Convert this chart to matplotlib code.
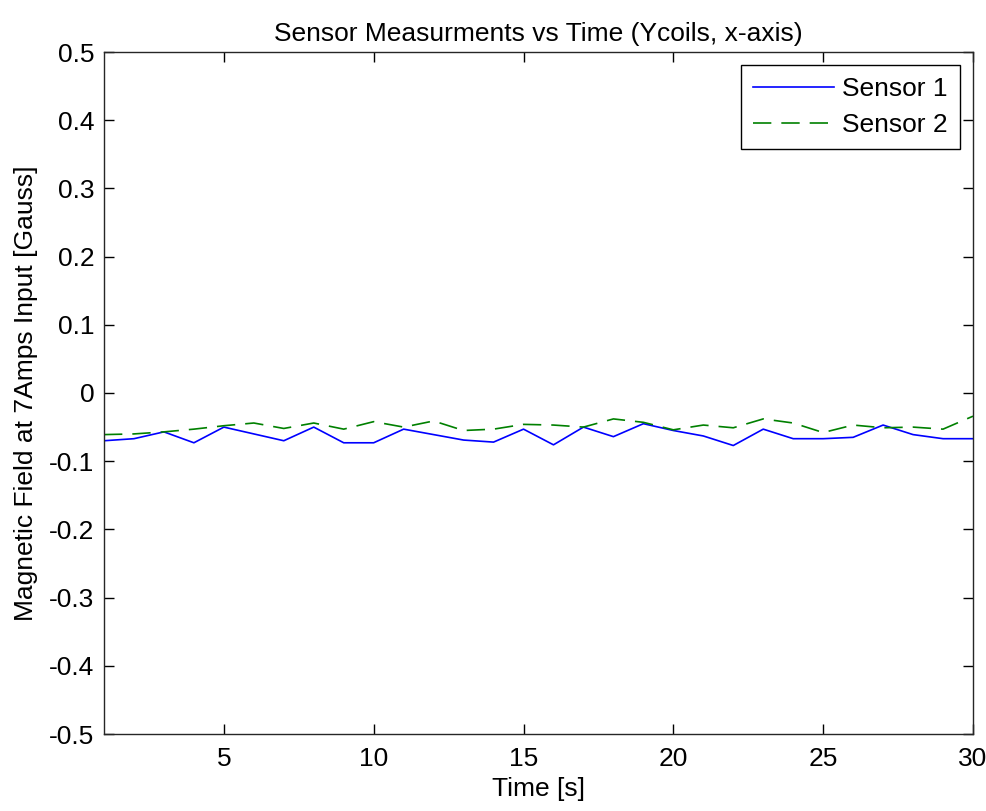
import matplotlib
matplotlib.use("Agg")
import matplotlib.pyplot as plt

# Time samples [s]
time_s = list(range(1, 31))

# Magnetic field readings [Gauss] at 7 A input, Y coils, x-axis
sensor1 = [-0.070, -0.067, -0.057, -0.073, -0.050, -0.060, -0.070, -0.050, -0.073, -0.073,
           -0.053, -0.061, -0.069, -0.072, -0.053, -0.076, -0.050, -0.064, -0.045, -0.055,
           -0.063, -0.077, -0.053, -0.067, -0.067, -0.065, -0.047, -0.061, -0.067, -0.067]
sensor2 = [-0.061, -0.060, -0.057, -0.053, -0.048, -0.044, -0.052, -0.044, -0.053, -0.042,
           -0.050, -0.041, -0.055, -0.053, -0.046, -0.047, -0.050, -0.038, -0.043, -0.054,
           -0.047, -0.051, -0.038, -0.044, -0.058, -0.047, -0.051, -0.050, -0.053, -0.034]

y_ticks = [0.5, 0.4, 0.3, 0.2, 0.1, 0, -0.1, -0.2, -0.3, -0.4, -0.5]
y_tick_labels = ["0.5", "0.4", "0.3", "0.2", "0.1", "0", "-0.1", "-0.2", "-0.3", "-0.4", "-0.5"]
x_ticks = [5, 10, 15, 20, 25, 30]

FS = 19
plt.rcParams["font.family"] = ["Liberation Sans", "DejaVu Sans"]
plt.rcParams["font.size"] = FS

fig = plt.figure(figsize=(9.86, 8.11), dpi=100, facecolor="white")
ax = fig.add_axes([104 / 986, 1 - 734 / 811, (973 - 104) / 986, (734 - 52) / 811])

ax.plot(time_s, sensor1, color=(0, 0, 1), linewidth=1.2, label="Sensor 1")
ax.plot(time_s, sensor2, color=(0, 0.5, 0), linewidth=1.2, dashes=(11, 6), label="Sensor 2")

ax.set_xlim(1, 30)
ax.set_ylim(-0.5, 0.5)
ax.set_xticks(x_ticks)
ax.set_yticks(y_ticks)
ax.set_yticklabels(y_tick_labels)

ax.tick_params(direction="in", length=7, width=1, top=True, right=True,
               labelsize=FS, colors="black")
ax.tick_params(axis="x", pad=9)
ax.tick_params(axis="y", pad=7)
for spine in ax.spines.values():
    spine.set_linewidth(1.0)
    spine.set_color("#262626")

ax.set_title("Sensor Measurments vs Time (Ycoils, x-axis)", fontsize=FS, pad=8)
ax.set_xlabel("Time [s]", fontsize=FS, labelpad=5)
ax.set_ylabel("Magnetic Field at 7Amps Input [Gauss]", fontsize=FS, labelpad=8)

leg = ax.legend(loc="upper right", fontsize=FS, frameon=True, fancybox=False,
                edgecolor="black", framealpha=1, handlelength=3.1, borderaxespad=0.5,
                borderpad=0.45, handletextpad=0.3, labelspacing=0.46)
leg.get_frame().set_linewidth(1.0)

fig.savefig("out.png", dpi=100, facecolor="white")
